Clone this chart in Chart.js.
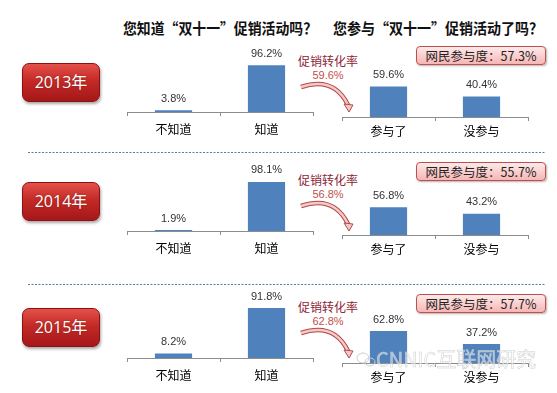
<!DOCTYPE html>
<html>
<head>
<meta charset="utf-8">
<script src="https://cdn.jsdelivr.net/npm/chart.js@4.4.0/dist/chart.umd.min.js"></script>
<style>
    body { margin: 0; width: 557px; height: 393px; overflow: hidden; position: relative; background: #fff;
           font-family: "Noto Sans CJK SC", "Noto Sans", sans-serif; }
    .title { position: absolute; top: 18px; font-size: 15px; font-weight: bold; color: #111;
             line-height: 20px; white-space: nowrap; transform-origin: left center; }
    .year { position: absolute; left: 22px; width: 78px; height: 39px; box-sizing: border-box;
            border-radius: 7px; border: 1px solid #8c1212; color: #fff; font-size: 16px;
            font-family: "Open Sans", "Noto Sans CJK SC", sans-serif;
            text-align: center; line-height: 37px;
            background: linear-gradient(#e4514a, #c42a26 45%, #a5171a);
            box-shadow: 1px 2px 3px rgba(0,0,0,0.35); text-shadow: 0 0 2px rgba(0,0,0,0.3); }
    .box { position: absolute; left: 416px; width: 130px; height: 19px; box-sizing: border-box;
           border: 1px solid #c0504d; border-radius: 4px; font-size: 12.5px; color: #222;
           text-align: center; line-height: 17px; white-space: nowrap;
           background: linear-gradient(#fdeaea, #f6b6b4);
           box-shadow: 1px 1px 2px rgba(0,0,0,0.3); }
    .conv { position: absolute; width: 80px; text-align: center; line-height: 14px; white-space: nowrap; }
    .chart { position: absolute; }
    .brand { position: absolute; left: 376px; top: 347px; font-size: 20px; line-height: 24px;
             color: rgba(255,255,255,0.5); -webkit-text-stroke: 0.5px #cdcdcd; white-space: nowrap; z-index: 5; }
</style>
</head>
<body>
<svg id="deco" width="557" height="393" style="position:absolute;left:0;top:0;z-index:4"></svg>

<script>
// 数据
const years = ['2013年', '2014年', '2015年'];
const awareLabels = ['不知道', '知道'];
const joinLabels = ['参与了', '没参与'];
const aware2013 = [3.8, 96.2];
const aware2014 = [1.9, 98.1];
const aware2015 = [8.2, 91.8];
const join2013 = [59.6, 40.4];
const join2014 = [56.8, 43.2];
const join2015 = [62.8, 37.2];
const conversionRate = [59.6, 56.8, 62.8];
const participation = [57.3, 55.7, 57.7];

const awareValues = [aware2013, aware2014, aware2015];
const joinValues = [join2013, join2014, join2015];

// 布局
const axisLeftY = [112, 231, 358];
const axisRightY = [117, 235, 363];
const pxLeft = [0.485, 0.5, 0.545];
const pxRight = [0.51, 0.49, 0.51];
const yearTop = [63, 182, 308];
const boxTop = [46, 162, 294];

const barColor = '#4f81bd';
const axisColor = '#8c8c8c';

function addDiv(cls, text, css) {
    const d = document.createElement('div');
    d.className = cls;
    d.textContent = text;
    Object.assign(d.style, css);
    document.body.appendChild(d);
    return d;
}

// 标题, 压到参考宽度
[['您知道“双十一”促销活动吗？', 123, 194], ['您参与“双十一”促销活动了吗？', 333, 210]].forEach(t => {
    const d = addDiv('title', t[0], { left: t[1] + 'px' });
    d.style.transform = `scaleX(${t[2] / d.offsetWidth})`;
});

// 数值标签
const valueLabels = {
    id: 'valueLabels',
    afterDatasetsDraw(chart) {
        const ctx = chart.ctx;
        const ds = chart.data.datasets[0];
        ctx.save();
        ctx.font = '11px "Liberation Sans", sans-serif';
        ctx.fillStyle = '#333';
        ctx.textAlign = 'center';
        ctx.textBaseline = 'middle';
        chart.getDatasetMeta(0).data.forEach((bar, i) => {
            ctx.fillText(ds.data[i].toFixed(1) + '%', bar.x, bar.y - 11.5);
        });
        ctx.restore();
    }
};

function makeChart(left, axisY, labels, values, px, labelPad) {
    const H = 60, padTop = 22, xH = 26, W = 188;
    const wrap = document.createElement('div');
    wrap.className = 'chart';
    wrap.style.left = left + 'px';
    wrap.style.top = (axisY - H - padTop) + 'px';
    wrap.style.zIndex = 2;
    const canvas = document.createElement('canvas');
    canvas.width = W;
    canvas.height = H + padTop + xH;
    wrap.appendChild(canvas);
    document.body.appendChild(wrap);

    new Chart(canvas.getContext('2d'), {
        type: 'bar',
        data: {
            labels: labels,
            datasets: [{
                data: values,
                backgroundColor: barColor,
                barPercentage: 0.4,
                categoryPercentage: 1
            }]
        },
        options: {
            responsive: false,
            animation: false,
            devicePixelRatio: 1,
            layout: { padding: { top: padTop, left: 1, right: 1, bottom: 0 } },
            plugins: { legend: { display: false }, tooltip: { enabled: false } },
            scales: {
                x: {
                    grid: { display: true, drawOnChartArea: false, drawTicks: true, tickLength: 4, color: axisColor },
                    border: { color: axisColor },
                    ticks: { color: '#000', padding: labelPad,
                             font: { family: '"Noto Sans CJK SC", sans-serif', size: 12 } },
                    afterFit: s => { s.height = xH; }
                },
                y: { display: false, min: 0, max: H / px }
            }
        },
        plugins: [valueLabels]
    });
}

const svg = document.getElementById('deco');
let svgHtml = '';
// 虚线分隔
[152.5, 284.5].forEach(y => {
    svgHtml += `<line x1="28" y1="${y}" x2="545" y2="${y}" stroke="#5d7f94" stroke-width="1" stroke-dasharray="2 1.5"/>`;
});

years.forEach((year, r) => {
    addDiv('year', year, { top: yearTop[r] + 'px' });
    makeChart(126, axisLeftY[r], awareLabels, awareValues[r], pxLeft[r], 6);
    makeChart(341, axisRightY[r], joinLabels, joinValues[r], pxRight[r], 3);

    const A = axisLeftY[r];
    addDiv('conv', '促销转化率', { left: '288px', top: (A - 58) + 'px', fontSize: '12px', color: '#8e2436' });
    addDiv('conv', conversionRate[r].toFixed(1) + '%', { left: '288px', top: (A - 44) + 'px',
        fontSize: '11px', color: '#c0504d', fontFamily: '"Liberation Sans", sans-serif' });
    addDiv('box', '网民参与度：' + participation[r].toFixed(1) + '%', { top: boxTop[r] + 'px' });

    // 弧形箭头
    const p = `M301 ${A - 25} Q334 ${A - 36} 348 ${A - 7}`;
    svgHtml += `<path d="${p}" fill="none" stroke="#b04848" stroke-width="4.5"/>`;
    svgHtml += `<path d="${p}" fill="none" stroke="#f5c8c8" stroke-width="2.5"/>`;
    svgHtml += `<polygon points="344,${A - 8} 353,${A - 7} 349,${A}" fill="#f5c8c8" stroke="#b04848" stroke-width="1"/>`;
});

// 品牌水印
svgHtml += `<ellipse cx="363" cy="358" rx="6" ry="5" fill="none" stroke="#cdcdcd" stroke-width="1"/>`;
svgHtml += `<ellipse cx="370" cy="362" rx="5" ry="4" fill="none" stroke="#cdcdcd" stroke-width="1"/>`;
svg.innerHTML = svgHtml;
addDiv('brand', 'CNNIC互联网研究', {});
</script>
</body>
</html>
